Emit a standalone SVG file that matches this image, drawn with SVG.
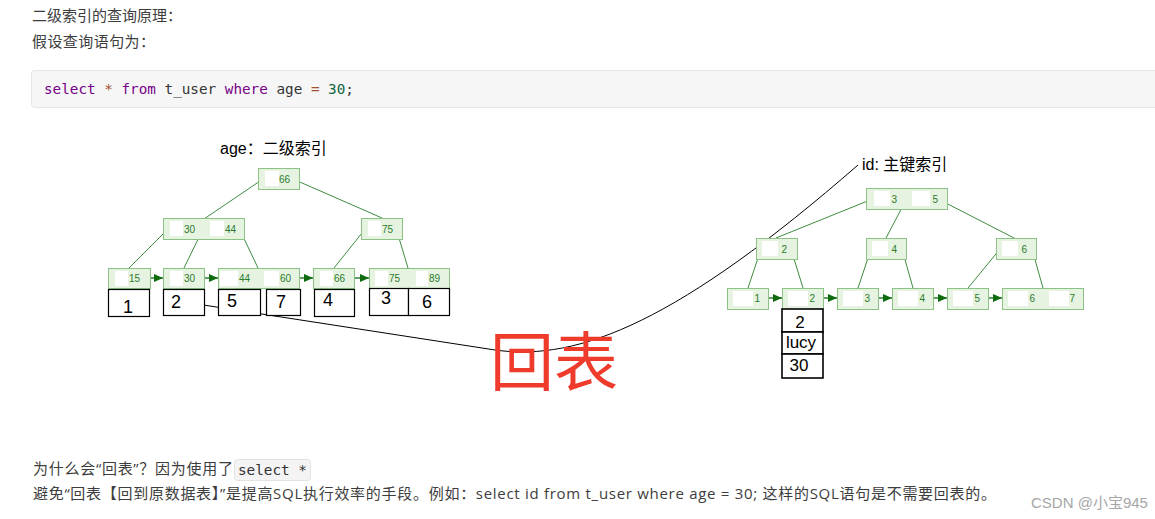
<svg xmlns="http://www.w3.org/2000/svg" width="1155" height="519" viewBox="0 0 1155 519">
<defs>
<marker id="ah" viewBox="0 0 9 8" refX="9" refY="4" markerWidth="9" markerHeight="8" markerUnits="userSpaceOnUse" orient="auto">
<path d="M0,0 L9,4 L0,8 Z" fill="#0d6b0d"/>
</marker>
<style>
.body{font-family:"Open Sans","Noto Sans CJK SC",sans-serif;font-size:15px;fill:#3d3d3d}
.mono{font-family:"DejaVu Sans Mono","Liberation Mono",monospace;font-size:14.3px}
.kw{fill:#770088}
.op{fill:#a0522d}
.num{fill:#116644}
.plain{fill:#333}
.nd{fill:#e6f3e1;stroke:#8cc285;stroke-width:1}
.wb{fill:#ffffff;stroke:none}
.nt{font-family:"Liberation Sans","Open Sans",sans-serif;font-size:10px;fill:#2c7a2c;text-anchor:end}
.tl{stroke:#3f8c3f;stroke-width:1;fill:none}
.ar{stroke:#0d6b0d;stroke-width:1.3;fill:none;marker-end:url(#ah)}
.db{fill:#fff;stroke:#000;stroke-width:1.2}
.dt{font-family:"Liberation Sans","Noto Sans",sans-serif;font-size:18px;fill:#000;text-anchor:middle}
.lbl{font-family:"Liberation Sans","Noto Sans CJK SC",sans-serif;font-size:16px;fill:#000}
</style>
</defs>
<rect width="1155" height="519" fill="#fff"/>

<g id="header">
<text class="body" x="32" y="21" textLength="150" lengthAdjust="spacing">二级索引的查询原理：</text>
<text class="body" x="32" y="47" textLength="123" lengthAdjust="spacing">假设查询语句为：</text>
<rect x="31.5" y="70.5" width="1130" height="37" rx="3" fill="#f6f6f6" stroke="#e6e6e6"/>
<text class="mono" x="44" y="94" xml:space="preserve"><tspan class="kw">select</tspan> <tspan class="op">*</tspan> <tspan class="kw">from</tspan> <tspan class="plain">t_user</tspan> <tspan class="kw">where</tspan> <tspan class="plain">age</tspan> <tspan class="op">=</tspan> <tspan class="num">30</tspan><tspan class="plain">;</tspan></text>
</g>

<g id="labels">
<text class="lbl" x="220" y="154">age：二级索引</text>
<text class="lbl" x="862" y="170">id: 主键索引</text>
</g>

<g id="connectors">
<path class="tl" d="M263,179 L204,219 M293,179 L382,218 M169,228 L129,268 M203,229 L184,268 M239,228 L258,268 M366,228 L334,268 M396,228 L408,268"/>
<path class="tl" d="M870,200 L776,238 M906,200 L886,238 M940,200 L1016,239 M761,249 L748,288 M791,249 L803,288 M871,249 L858,288 M902,249 L913,288 M1000,249 L968,288 M1032,249 L1043,288"/>
<line class="ar" x1="143" y1="278" x2="163" y2="278"/>
<line class="ar" x1="199" y1="278" x2="218" y2="278"/>
<line class="ar" x1="293" y1="278" x2="313" y2="278"/>
<line class="ar" x1="348" y1="278" x2="369" y2="278"/>
<line class="ar" x1="763" y1="298" x2="782" y2="298"/>
<line class="ar" x1="818" y1="298" x2="837" y2="298"/>
<line class="ar" x1="873" y1="298" x2="892" y2="298"/>
<line class="ar" x1="928" y1="298" x2="947" y2="298"/>
<line class="ar" x1="983" y1="298" x2="1002" y2="298"/>
<path d="M184,302 L495,350 C580,362 680,320 858,165" fill="none" stroke="#000" stroke-width="1"/>
</g>

<!-- left tree: secondary index on age -->
<g id="age-root"><rect class="nd" x="258.5" y="168.5" width="41" height="21"/><rect class="wb" x="265" y="171" width="14" height="15"/><text class="nt" x="290" y="183">66</text></g>
<g id="age-n30-44"><rect class="nd" x="163.5" y="218.5" width="81" height="21"/><rect class="wb" x="170" y="221" width="13" height="15"/><rect class="wb" x="210" y="221" width="14" height="15"/><text class="nt" x="195" y="233">30</text><text class="nt" x="236" y="233">44</text></g>
<g id="age-n75"><rect class="nd" x="361.5" y="218.5" width="41" height="21"/><rect class="wb" x="368" y="221" width="13" height="15"/><text class="nt" x="393" y="233">75</text></g>
<g id="age-l15"><rect class="nd" x="108.5" y="268.5" width="42" height="20"/><rect class="wb" x="115" y="271" width="13" height="15"/><text class="nt" x="140" y="282">15</text></g>
<g id="age-l30"><rect class="nd" x="163.5" y="268.5" width="41" height="20"/><rect class="wb" x="170" y="271" width="13" height="15"/><text class="nt" x="195" y="282">30</text></g>
<g id="age-l44-60"><rect class="nd" x="218.5" y="268.5" width="81" height="20"/><rect class="wb" x="220" y="271" width="18" height="15"/><rect class="wb" x="264" y="271" width="15" height="15"/><text class="nt" x="250" y="282">44</text><text class="nt" x="291" y="282">60</text></g>
<g id="age-l66"><rect class="nd" x="313.5" y="268.5" width="41" height="20"/><rect class="wb" x="320" y="271" width="13" height="15"/><text class="nt" x="345" y="282">66</text></g>
<g id="age-l75-89"><rect class="nd" x="369.5" y="268.5" width="80" height="20"/><rect class="wb" x="375" y="271" width="13" height="15"/><rect class="wb" x="416" y="271" width="12" height="15"/><text class="nt" x="400" y="282">75</text><text class="nt" x="440" y="282">89</text></g>

<g id="age-data">
<rect class="db" x="108.5" y="289.5" width="41" height="27"/><text class="dt" x="128" y="313">1</text>
<rect class="db" x="163.5" y="289.5" width="41" height="26"/><text class="dt" x="176" y="308">2</text>
<rect class="db" x="218.5" y="289.5" width="42" height="26"/><text class="dt" x="232" y="307">5</text>
<rect class="db" x="266.5" y="289.5" width="34" height="26"/><text class="dt" x="281" y="308">7</text>
<rect class="db" x="314.5" y="289.5" width="40" height="27"/><text class="dt" x="328" y="306">4</text>
<rect class="db" x="369.5" y="288.5" width="39" height="27"/><text class="dt" x="386" y="304">3</text>
<rect class="db" x="408.5" y="288.5" width="41" height="27"/><text class="dt" x="427" y="308">6</text>
</g>

<!-- right tree: primary key index on id -->
<g id="id-root"><rect class="nd" x="866.5" y="188.5" width="81" height="21"/><rect class="wb" x="874" y="191" width="16" height="15"/><rect class="wb" x="912" y="191" width="18" height="15"/><text class="nt" x="897" y="203">3</text><text class="nt" x="938" y="203">5</text></g>
<g id="id-n2"><rect class="nd" x="756.5" y="238.5" width="41" height="21"/><rect class="wb" x="762" y="241" width="16" height="15"/><text class="nt" x="787" y="253">2</text></g>
<g id="id-n4"><rect class="nd" x="866.5" y="238.5" width="40" height="21"/><rect class="wb" x="872" y="241" width="16" height="15"/><text class="nt" x="897" y="253">4</text></g>
<g id="id-n6"><rect class="nd" x="996.5" y="238.5" width="40" height="21"/><rect class="wb" x="1002" y="241" width="16" height="15"/><text class="nt" x="1027" y="253">6</text></g>
<g id="id-l1"><rect class="nd" x="727.5" y="288.5" width="41" height="21"/><rect class="wb" x="733" y="291" width="20" height="15"/><text class="nt" x="760" y="302">1</text></g>
<g id="id-l2"><rect class="nd" x="782.5" y="288.5" width="41" height="21"/><rect class="wb" x="788" y="291" width="20" height="15"/><text class="nt" x="815" y="302">2</text></g>
<g id="id-l3"><rect class="nd" x="837.5" y="288.5" width="41" height="21"/><rect class="wb" x="843" y="291" width="20" height="15"/><text class="nt" x="870" y="302">3</text></g>
<g id="id-l4"><rect class="nd" x="892.5" y="288.5" width="41" height="21"/><rect class="wb" x="898" y="291" width="20" height="15"/><text class="nt" x="925" y="302">4</text></g>
<g id="id-l5"><rect class="nd" x="947.5" y="288.5" width="41" height="21"/><rect class="wb" x="953" y="291" width="20" height="15"/><text class="nt" x="980" y="302">5</text></g>
<g id="id-l6-7"><rect class="nd" x="1002.5" y="288.5" width="81" height="21"/><rect class="wb" x="1008" y="291" width="20" height="15"/><rect class="wb" x="1049" y="291" width="20" height="15"/><text class="nt" x="1035" y="302">6</text><text class="nt" x="1075" y="302">7</text></g>

<g id="id-data">
<rect x="782" y="309" width="41" height="23" fill="#fff" stroke="#000" stroke-width="1.6"/>
<rect x="782" y="332" width="41" height="22" fill="#fff" stroke="#000" stroke-width="1.6"/>
<rect x="782" y="354" width="41" height="24" fill="#fff" stroke="#000" stroke-width="1.6"/>
<text class="dt" x="800" y="328" style="font-size:17px">2</text>
<text class="dt" x="801" y="348" style="font-size:17px">lucy</text>
<text class="dt" x="799" y="371" style="font-size:17px">30</text>
</g>

<g id="huibiao">
<text x="490" y="385" style="font-family:'Noto Sans CJK SC',sans-serif;font-size:64px;fill:#ee3b2c">回表</text>
</g>

<g id="footer">
<text class="body" x="33" y="474" textLength="200" lengthAdjust="spacing">为什么会“回表”？因为使用了</text>
<rect x="234.5" y="459.5" width="76" height="21" rx="3" fill="#f4f4f4" stroke="#e3e3e3"/>
<text class="mono plain" x="238" y="475" xml:space="preserve">select *</text>
<text class="body" x="33" y="499" textLength="963" lengthAdjust="spacing">避免“回表【回到原数据表】”是提高SQL执行效率的手段。例如：select id from t_user where age = 30; 这样的SQL语句是不需要回表的。</text>
<text x="1031" y="508" style="font-family:'Liberation Sans','Noto Sans CJK SC',sans-serif;font-size:15px;fill:#a6a6a6">CSDN @小宝945</text>
</g>
</svg>
